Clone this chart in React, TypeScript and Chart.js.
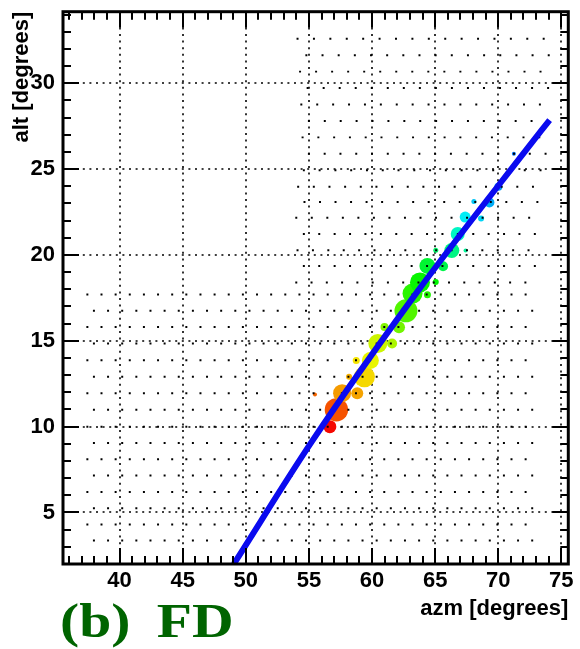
import React, { useEffect, useRef } from 'react';
import { Chart, registerables } from 'chart.js';

Chart.register(...registerables);

// ---- axes ----
const xMin = 35.52;
const xMax = 75.55;
const yMin = 2.0;
const yMax = 34.17;
const xTickValues = [40, 45, 50, 55, 60, 65, 70, 75];
const yTickValues = [5, 10, 15, 20, 25, 30];

// ---- camera pixel lattice: lower field (one row per entry) ----
const lowerRowAlt = [17.7, 16.75, 15.8, 14.84, 13.87, 12.91, 11.94, 10.98, 10.0, 9.05, 8.1, 7.15, 6.2, 5.25, 4.3, 3.37];
const lowerRowStart = [37.45, 37.97, 37.45, 37.97, 37.45, 37.97, 37.45, 37.97, 37.45, 37.97, 37.45, 37.97, 37.45, 37.97, 37.45, 37.97];
const lowerRowStep = [1.12, 1.12, 1.12, 1.12, 1.12, 1.12, 1.12, 1.12, 1.12, 1.12, 1.12, 1.12, 1.12, 1.12, 1.12, 1.12];
const lowerRowCount = [32, 32, 32, 32, 32, 32, 32, 32, 32, 32, 32, 32, 32, 32, 32, 32];

// ---- camera pixel lattice: upper field ----
const upperRowAlt = [32.6, 31.64, 30.68, 29.72, 28.76, 27.8, 26.85, 25.89, 24.93, 23.97, 23.09, 22.17, 21.22, 20.27, 19.36, 18.4];
const upperRowStart = [54.1, 54.8, 54.3, 54.9, 54.4, 55.0, 54.5, 55.0, 54.6, 54.15, 54.65, 54.0, 54.6, 54.1, 54.6, 54.0];
const upperRowStep = [1.3, 1.28, 1.27, 1.27, 1.26, 1.26, 1.25, 1.25, 1.25, 1.24, 1.23, 1.23, 1.22, 1.22, 1.22, 1.21];
const upperRowCount = [16, 16, 16, 16, 16, 16, 16, 16, 16, 16, 16, 16, 16, 16, 16, 16];

// ---- triggered pixels ----
const hitAzm = [56.66, 57.18, 55.48, 57.63, 58.83, 58.18, 59.4, 58.75, 59.87, 60.46, 61.59, 60.99, 62.14, 62.69, 63.21, 64.39, 63.8, 65.05, 64.39, 65.63, 65.05, 66.32, 67.41, 66.79, 67.38, 68.64, 68.07, 69.3, 70.01, 71.24];
const hitAlt = [10.0, 10.98, 11.87, 11.95, 11.95, 12.9, 12.9, 13.86, 13.86, 14.84, 14.84, 15.8, 15.79, 16.75, 17.75, 17.68, 18.4, 18.43, 19.36, 19.34, 20.28, 20.26, 20.26, 21.22, 22.21, 22.13, 23.11, 23.06, 23.97, 25.89];
const hitCharge = [13, 23.4, 4, 18, 12, 6, 21, 7, 17, 19, 10, 8, 12, 23, 20, 7, 20, 6, 16, 10, 5, 15, 4, 14, 11, 6, 5, 10, 8, 4];
const hitTime = [0.2, 2.0, 2.5, 3.8, 4.0, 4.3, 5.3, 5.6, 6.3, 7.0, 7.8, 8.8, 9.2, 10.0, 11.0, 11.2, 11.8, 12.0, 13.2, 13.8, 14.5, 15.2, 15.8, 16.8, 18.2, 18.8, 19.2, 19.8, 20.3, 21.2];

// ---- fitted track (slightly curved in alt/azm) ----
const fitAzm = [49.05, 55.27, 63.58, 72.03, 74.07];
const fitAlt = [2.0, 9.17, 17.85, 25.95, 27.86];

const panelLabel = '(b) FD';

function buildLattice() {
  const pts: { x: number; y: number }[] = [];
  lowerRowAlt.forEach((alt, r) => {
    for (let k = 0; k < lowerRowCount[r]; k++) pts.push({ x: lowerRowStart[r] + k * lowerRowStep[r], y: alt });
  });
  upperRowAlt.forEach((alt, r) => {
    for (let k = 0; k < upperRowCount[r]; k++) pts.push({ x: upperRowStart[r] + k * upperRowStep[r], y: alt });
  });
  return pts;
}

const timeColor = (t: number) => `hsl(${t * 10}, 100%, 48%)`;

const framePlugin = {
  id: 'rootFrame',
  beforeDatasetsDraw(chart: any) {
    const { ctx, chartArea, scales } = chart;
    const { left, right, top, bottom } = chartArea;
    ctx.save();
    ctx.strokeStyle = '#000';
    ctx.lineWidth = 1.6;
    ctx.setLineDash([2, 4.6]);
    for (const v of xTickValues) {
      const px = Math.round(scales.x.getPixelForValue(v));
      ctx.beginPath();
      ctx.moveTo(px, bottom);
      ctx.lineTo(px, top);
      ctx.stroke();
    }
    for (const v of yTickValues) {
      const py = Math.round(scales.y.getPixelForValue(v));
      ctx.beginPath();
      ctx.moveTo(left, py);
      ctx.lineTo(right, py);
      ctx.stroke();
    }
    ctx.restore();
  },
  afterDatasetsDraw(chart: any) {
    const { ctx, chartArea, scales } = chart;
    const { left, right, top, bottom } = chartArea;
    ctx.save();
    ctx.strokeStyle = '#000';
    ctx.lineWidth = 2;
    for (let v = Math.ceil(xMin); v <= Math.floor(xMax); v++) {
      const len = v % 5 === 0 ? 16 : 8;
      const px = Math.round(scales.x.getPixelForValue(v));
      ctx.beginPath();
      ctx.moveTo(px, bottom);
      ctx.lineTo(px, bottom - len);
      ctx.moveTo(px, top);
      ctx.lineTo(px, top + len);
      ctx.stroke();
    }
    for (let v = Math.ceil(yMin); v <= Math.floor(yMax); v++) {
      const len = v % 5 === 0 ? 16 : 8;
      const py = Math.round(scales.y.getPixelForValue(v));
      ctx.beginPath();
      ctx.moveTo(left, py);
      ctx.lineTo(left + len, py);
      ctx.moveTo(right, py);
      ctx.lineTo(right - len, py);
      ctx.stroke();
    }
    ctx.lineWidth = 3;
    ctx.strokeRect(left, top, right - left, bottom - top);
    ctx.restore();
  },
  afterDraw(chart: any) {
    const { ctx } = chart;
    ctx.save();
    ctx.fillStyle = '#006400';
    ctx.font = "bold 48px 'Liberation Serif', serif";
    ctx.textBaseline = 'alphabetic';
    try {
      (ctx as any).wordSpacing = '10px';
    } catch (e) {
      /* ignore */
    }
    ctx.translate(60, 637);
    ctx.scale(1.2, 1);
    ctx.fillText(panelLabel, 0, 0);
    ctx.restore();
  },
};

export default function App() {
  const canvasRef = useRef<HTMLCanvasElement | null>(null);

  useEffect(() => {
    const canvas = canvasRef.current;
    if (!canvas) return;
    const tickFont = { family: "'Liberation Sans', Arial, sans-serif", size: 22, weight: 'bold' as const };
    const titleFont = { family: "'Liberation Sans', Arial, sans-serif", size: 22, weight: 'bold' as const };
    const chart = new Chart(canvas, {
      type: 'scatter',
      data: {
        datasets: [
          {
            label: 'fit',
            data: fitAzm.map((x, i) => ({ x, y: fitAlt[i] })),
            showLine: true,
            borderColor: '#0a0aef',
            borderWidth: 6,
            borderCapStyle: 'butt',
            cubicInterpolationMode: 'monotone',
            pointRadius: 0,
            order: 0,
          } as any,
          {
            label: 'pixels',
            data: buildLattice(),
            pointStyle: 'rect',
            pointRadius: 1.4,
            pointBackgroundColor: '#000',
            pointBorderWidth: 0,
            order: 1,
          },
          {
            label: 'hits',
            data: hitAzm.map((x, i) => ({ x, y: hitAlt[i] })),
            pointRadius: hitCharge.map((c) => c / 2),
            pointBackgroundColor: hitTime.map(timeColor),
            pointBorderWidth: 0,
            order: 2,
          },
        ],
      },
      options: {
        animation: false,
        responsive: false,
        events: [],
        layout: { padding: { top: 8, right: 8, left: 0, bottom: 0 } },
        plugins: { legend: { display: false }, tooltip: { enabled: false } },
        scales: {
          x: {
            type: 'linear',
            position: 'bottom',
            min: xMin,
            max: xMax,
            afterBuildTicks: (s: any) => {
              s.ticks = xTickValues.map((v) => ({ value: v }));
            },
            afterFit: (s: any) => {
              s.height = 85;
              s.paddingLeft = 0;
              s.paddingRight = 0;
              s.paddingTop = 0;
              s.paddingBottom = 0;
            },
            grid: { display: false, drawTicks: false, tickLength: 0 },
            border: { display: false },
            ticks: { color: '#000', font: tickFont, padding: 4, maxRotation: 0, autoSkip: false },
            title: {
              display: true,
              text: 'azm [degrees]',
              align: 'end',
              color: '#000',
              font: titleFont,
              padding: { top: 0, bottom: 27 },
            },
          },
          y: {
            type: 'linear',
            min: yMin,
            max: yMax,
            afterBuildTicks: (s: any) => {
              s.ticks = yTickValues.map((v) => ({ value: v }));
            },
            afterFit: (s: any) => {
              s.width = 63;
              s.paddingLeft = 0;
              s.paddingRight = 0;
              s.paddingTop = 0;
              s.paddingBottom = 0;
            },
            grid: { display: false, drawTicks: false, tickLength: 0 },
            border: { display: false },
            ticks: { color: '#000', font: tickFont, padding: 8, autoSkip: false },
            title: {
              display: true,
              text: 'alt [degrees]',
              align: 'end',
              color: '#000',
              font: titleFont,
              padding: { top: 9, bottom: 0 },
            },
          },
        },
      } as any,
      plugins: [framePlugin],
    });
    return () => chart.destroy();
  }, []);

  return (
    <div style={{ position: 'absolute', left: 0, top: 0, width: 580, height: 649, background: '#fff' }}>
      <canvas ref={canvasRef} width={580} height={649} style={{ display: 'block', width: 580, height: 649 }} />
    </div>
  );
}
